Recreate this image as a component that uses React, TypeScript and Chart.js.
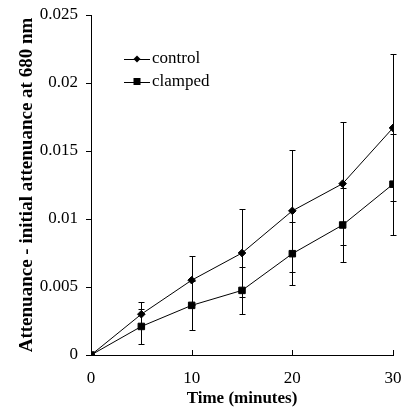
import React, { useEffect, useRef } from "react";
import { Chart, registerables } from "chart.js";

Chart.register(...registerables);

const timeMinutes = [0, 5, 10, 15, 20, 25, 30];
const controlValues = [0, 0.003, 0.0055, 0.0075, 0.0106, 0.0126, 0.0167];
const controlErrors = [0, 0.0009, 0.0018, 0.0032, 0.0045, 0.0045, 0.0054];
const clampedValues = [0, 0.0021, 0.00365, 0.00475, 0.00745, 0.00956, 0.01256];
const clampedErrors = [0, 0.0013, 0.0018, 0.0017, 0.0023, 0.0027, 0.0037];
const seriesNames = ["control", "clamped"];
const xTickValues = [0, 10, 20, 30];
const yTickLabels = ["0", "0.005", "0.01", "0.015", "0.02", "0.025"];

const SERIF = '"Liberation Serif", "Times New Roman", serif';

const errorBarPlugin = {
  id: "errorBars",
  beforeDatasetsDraw(chart: any) {
    const { ctx } = chart;
    const yScale = chart.scales.y;
    const errs = [controlErrors, clampedErrors];
    ctx.save();
    ctx.strokeStyle = "#000";
    ctx.lineWidth = 1;
    chart.data.datasets.forEach((ds: any, di: number) => {
      const meta = chart.getDatasetMeta(di);
      meta.data.forEach((pt: any, i: number) => {
        const e = errs[di][i];
        if (!e) return;
        const v = ds.data[i].y;
        const x = Math.round(pt.x) + 0.5;
        const yt = Math.round(yScale.getPixelForValue(v + e)) + 0.5;
        const yb = Math.round(yScale.getPixelForValue(v - e)) + 0.5;
        ctx.beginPath();
        ctx.moveTo(x, yt);
        ctx.lineTo(x, yb);
        ctx.moveTo(x - 3, yt);
        ctx.lineTo(x + 3, yt);
        ctx.moveTo(x - 3, yb);
        ctx.lineTo(x + 3, yb);
        ctx.stroke();
      });
    });
    ctx.restore();
  },
};

const inwardTicksPlugin = {
  id: "inwardTicks",
  afterDraw(chart: any) {
    const { ctx, chartArea } = chart;
    const xScale = chart.scales.x;
    ctx.save();
    ctx.strokeStyle = "#000";
    ctx.lineWidth = 1;
    xTickValues.forEach((v) => {
      const x = Math.round(xScale.getPixelForValue(v)) + 0.5;
      ctx.beginPath();
      ctx.moveTo(x, chartArea.bottom);
      ctx.lineTo(x, chartArea.bottom - 5);
      ctx.stroke();
    });
    ctx.restore();
  },
};

const legendPlugin = {
  id: "innerLegend",
  afterDraw(chart: any) {
    const { ctx, chartArea } = chart;
    ctx.save();
    ctx.strokeStyle = "#000";
    ctx.fillStyle = "#000";
    ctx.lineWidth = 1;
    ctx.font = `17px ${SERIF}`;
    ctx.textBaseline = "middle";
    seriesNames.forEach((name, i) => {
      const y = chartArea.top + 44 + i * 22.5;
      const x0 = chartArea.left + 33;
      const x1 = chartArea.left + 59;
      const xm = (x0 + x1) / 2;
      ctx.beginPath();
      ctx.moveTo(x0, Math.round(y) + 0.5);
      ctx.lineTo(x1, Math.round(y) + 0.5);
      ctx.stroke();
      ctx.beginPath();
      if (i === 0) {
        ctx.moveTo(xm, y - 3.5);
        ctx.lineTo(xm + 3.5, y);
        ctx.lineTo(xm, y + 3.5);
        ctx.lineTo(xm - 3.5, y);
        ctx.closePath();
      } else {
        ctx.rect(xm - 3.5, y - 3.5, 7, 7);
      }
      ctx.fill();
      ctx.fillText(name, x1 + 2, y);
    });
    ctx.restore();
  },
};

export default function App() {
  const canvasRef = useRef<HTMLCanvasElement>(null);

  useEffect(() => {
    if (!canvasRef.current) return;
    const chart = new Chart(canvasRef.current, {
      type: "line",
      data: {
        datasets: [
          {
            label: seriesNames[0],
            data: timeMinutes.map((t, i) => ({ x: t, y: controlValues[i] })),
            borderColor: "#000",
            backgroundColor: "#000",
            borderWidth: 1,
            pointStyle: "rectRot",
            pointRadius: 3.8,
            pointBorderWidth: 1,
            pointBorderColor: "#000",
            pointBackgroundColor: "#000",
            tension: 0,
          },
          {
            label: seriesNames[1],
            data: timeMinutes.map((t, i) => ({ x: t, y: clampedValues[i] })),
            borderColor: "#000",
            backgroundColor: "#000",
            borderWidth: 1,
            pointStyle: "rect",
            pointRadius: 4.6,
            pointBorderWidth: 1,
            pointBorderColor: "#000",
            pointBackgroundColor: "#000",
            tension: 0,
          },
        ],
      },
      options: {
        animation: false,
        responsive: false,
        maintainAspectRatio: false,
        layout: { padding: { top: 15, right: 11, left: 0, bottom: 0 } },
        plugins: {
          legend: { display: false },
          tooltip: { enabled: false },
        },
        scales: {
          x: {
            type: "linear",
            min: 0,
            max: 30,
            afterBuildTicks: (scale: any) => {
              scale.ticks = xTickValues.map((v) => ({ value: v }));
            },
            ticks: {
              color: "#000",
              font: { family: SERIF, size: 17 },
              padding: 13,
              maxRotation: 0,
              callback: (v: any) => String(v),
            },
            grid: { display: true, drawOnChartArea: false, drawTicks: false, color: "#000" },
            border: { display: true, color: "#000", width: 1 },
            title: {
              display: true,
              text: "Time (minutes)",
              color: "#000",
              font: { family: SERIF, size: 17, weight: "bold" },
              padding: { top: 0, bottom: 9 },
            },
            afterFit: (scale: any) => {
              scale.height = 63;
              scale.paddingLeft = 0;
              scale.paddingRight = 0;
            },
          },
          y: {
            type: "linear",
            min: 0,
            max: 0.025,
            afterBuildTicks: (scale: any) => {
              scale.ticks = yTickLabels.map((l) => ({ value: parseFloat(l) }));
            },
            ticks: {
              color: "#000",
              font: { family: SERIF, size: 17 },
              padding: 8,
              callback: (v: any) => {
                const idx = yTickLabels.findIndex((l) => Math.abs(parseFloat(l) - v) < 1e-9);
                return idx >= 0 ? yTickLabels[idx] : "";
              },
            },
            grid: { display: true, drawOnChartArea: false, drawTicks: true, tickLength: 5, color: "#000" },
            border: { display: true, color: "#000", width: 1 },
            title: {
              display: true,
              text: "Attenuance - initial attenuance at 680 nm",
              color: "#000",
              font: { family: SERIF, size: 19, weight: "bold" },
              padding: { top: 16, bottom: 0 },
            },
            afterFit: (scale: any) => {
              scale.width = 91;
              scale.paddingTop = 0;
              scale.paddingBottom = 0;
            },
          },
        },
      },
      plugins: [errorBarPlugin, inwardTicksPlugin, legendPlugin],
    } as any);
    return () => chart.destroy();
  }, []);

  return (
    <div style={{ position: "absolute", left: 0, top: 0, width: 404, height: 418, background: "#fff" }}>
      <canvas ref={canvasRef} width={404} height={418} style={{ width: 404, height: 418, display: "block" }} />
    </div>
  );
}
